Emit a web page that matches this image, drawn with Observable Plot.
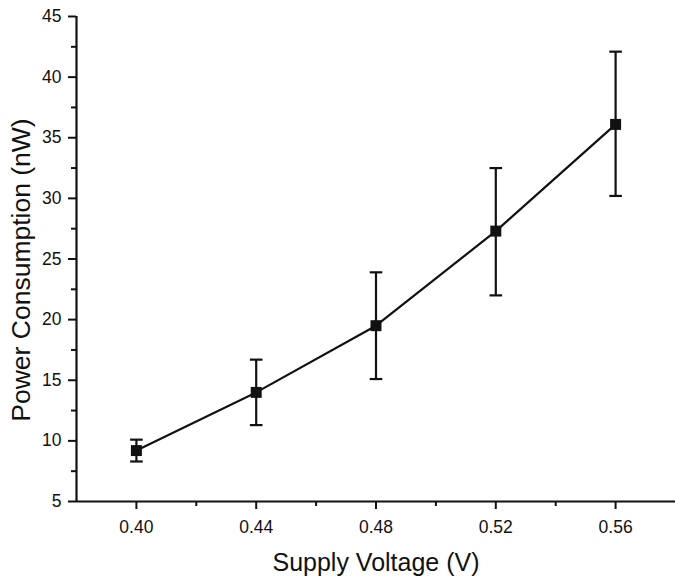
<!DOCTYPE html>
<html>
<head>
<meta charset="utf-8">
<script src="https://cdn.jsdelivr.net/npm/d3@7"></script>
<script src="https://cdn.jsdelivr.net/npm/@observablehq/plot@0.6"></script>
<style>
  html, body { margin: 0; padding: 0; background: #fff; }
  svg { display: block; font-family: "Liberation Sans", Arial, sans-serif; }
</style>
</head>
<body>
<div id="chart"></div>
<script>
const voltage = [0.40, 0.44, 0.48, 0.52, 0.56];
const power   = [9.2, 14.0, 19.5, 27.3, 36.1];
const errHigh = [10.1, 16.7, 23.9, 32.5, 42.1];
const errLow  = [8.3, 11.3, 15.1, 22.0, 30.2];

const xTicks = [0.40, 0.44, 0.48, 0.52, 0.56];
const xMinor = [0.42, 0.46, 0.50, 0.54];
const yTicks = [5, 10, 15, 20, 25, 30, 35, 40, 45];
const yMinor = [7.5, 12.5, 17.5, 22.5, 27.5, 32.5, 37.5, 42.5];
const xTickLabels = ["0.40", "0.44", "0.48", "0.52", "0.56"];
const yTickLabels = ["5", "10", "15", "20", "25", "30", "35", "40", "45"];

const xTitle = "Supply Voltage (V)";
const yTitle = "Power Consumption (nW)";

const data = voltage.map((v, i) => ({v, p: power[i], hi: errHigh[i], lo: errLow[i]}));

const capSymbol = {
  draw(context, size) {
    const s = Math.sqrt(size / Math.PI);
    context.moveTo(-s, 0);
    context.lineTo(s, 0);
  }
};

const ink = "#111";

const chart = Plot.plot({
  width: 675,
  height: 580,
  marginLeft: 76,
  marginRight: 0,
  marginTop: 16,
  marginBottom: 79,
  style: {fontFamily: "'Liberation Sans', Arial, sans-serif", color: ink, background: "#fff"},
  x: {domain: [0.38, 0.58]},
  y: {domain: [5, 45]},
  marks: [
    Plot.axisX(xTicks, {tickSize: 8, stroke: ink, strokeWidth: 2, strokeOpacity: 1, tickFormat: () => "", label: null}),
    Plot.axisX(xMinor, {tickSize: 5, stroke: ink, strokeWidth: 2, strokeOpacity: 1, tickFormat: () => "", label: null}),
    Plot.axisY(yTicks, {tickSize: 8, stroke: ink, strokeWidth: 2, strokeOpacity: 1, tickFormat: () => "", label: null}),
    Plot.axisY(yMinor, {tickSize: 5, stroke: ink, strokeWidth: 2, strokeOpacity: 1, tickFormat: () => "", label: null}),
    Plot.text(xTicks, {x: d => d, text: (d, i) => xTickLabels[i], frameAnchor: "bottom", lineAnchor: "top", dy: 19, fontSize: 17.5, fill: ink}),
    Plot.text(yTicks, {y: d => d, text: (d, i) => yTickLabels[i], frameAnchor: "left", textAnchor: "end", dx: -15, fontSize: 17.5, fill: ink}),
    Plot.ruleX([0.38], {stroke: ink, strokeWidth: 2.2}),
    Plot.ruleY([5], {stroke: ink, strokeWidth: 2.2}),
    Plot.ruleX(data, {x: "v", y1: "lo", y2: "hi", stroke: ink, strokeWidth: 2.2}),
    Plot.dot(data, {x: "v", y: "hi", symbol: capSymbol, r: 6.3, stroke: ink, strokeWidth: 2.2, fill: "none"}),
    Plot.dot(data, {x: "v", y: "lo", symbol: capSymbol, r: 6.3, stroke: ink, strokeWidth: 2.2, fill: "none"}),
    Plot.line(data, {x: "v", y: "p", stroke: ink, strokeWidth: 2.2}),
    Plot.dot(data, {x: "v", y: "p", symbol: "square", r: 6.2, fill: ink, stroke: "none"}),
    Plot.text([xTitle], {frameAnchor: "bottom", dy: 69, fontSize: 25, fill: ink}),
    Plot.text([yTitle], {frameAnchor: "left", textAnchor: "middle", dx: -55, dy: 11, rotate: -90, fontSize: 26.5, fill: ink})
  ]
});

document.getElementById("chart").appendChild(chart);
</script>
</body>
</html>
